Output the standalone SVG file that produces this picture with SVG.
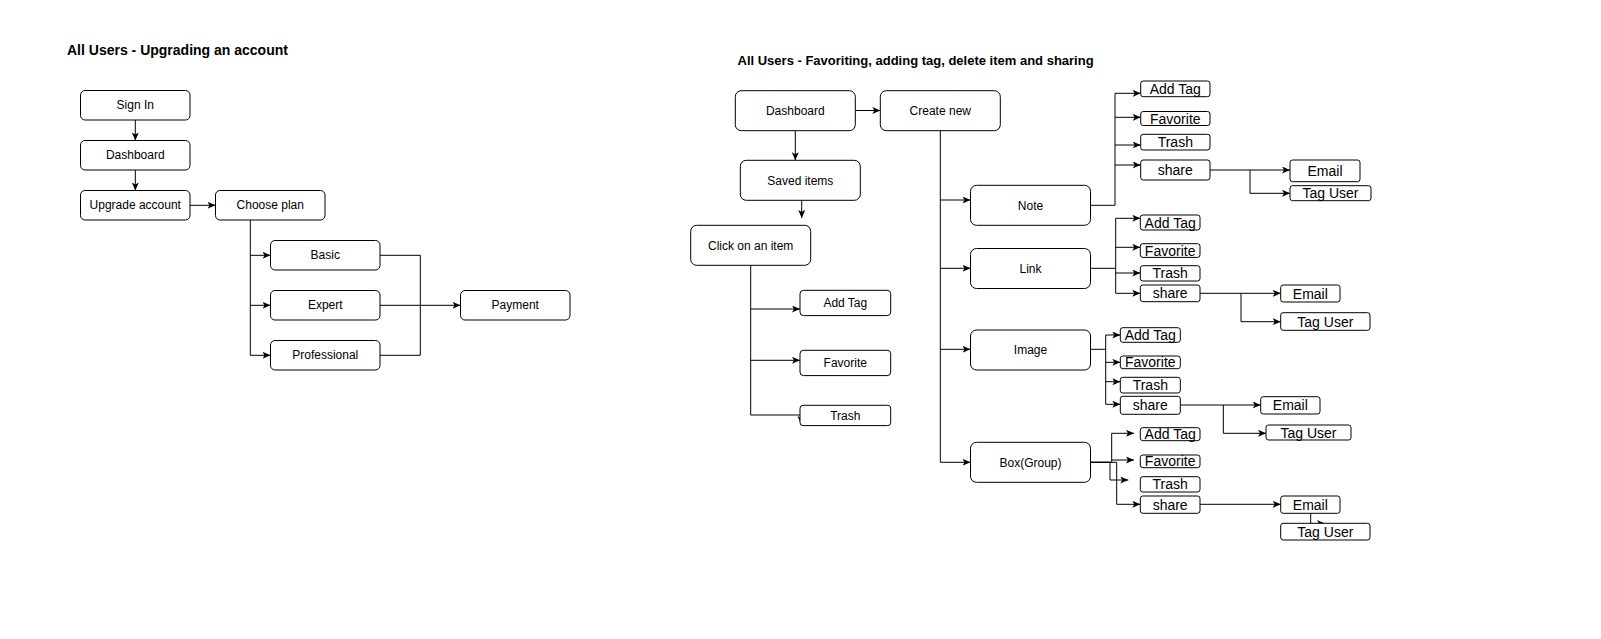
<svg xmlns="http://www.w3.org/2000/svg" width="1601" height="639" viewBox="0 0 1601 639">
<style>
.n rect{fill:#fff;stroke:#000;stroke-width:1}
text{font-family:"Liberation Sans",Arial,Helvetica,sans-serif;fill:#000}
.t{font-size:12px;text-anchor:middle}
.s{font-size:14px;text-anchor:middle}
.h{font-size:14px;font-weight:bold}
.h2{font-size:13px;font-weight:bold}
#connectors path{fill:none;stroke:#000;stroke-width:1}
</style>
<defs>
<marker id="a" markerWidth="10" markerHeight="8" refX="8" refY="3.5" orient="auto" markerUnits="userSpaceOnUse"><path d="M0,0 L8,3.5 L0,7 L2,3.5 Z" fill="#000"/></marker>
</defs>
<rect width="1601" height="639" fill="#fff"/>
<text class="h" x="67" y="55">All Users - Upgrading an account</text>
<text class="h2" x="737.5" y="65">All Users - Favoriting, adding tag, delete item and sharing</text>

<g id="connectors">
<path d="M135.3,120 V140.5" marker-end="url(#a)"/>
<path d="M135.3,170 V190.5" marker-end="url(#a)"/>
<path d="M190,205.3 H215.5" marker-end="url(#a)"/>
<path d="M250.3,220 V355.3 H270.5" marker-end="url(#a)"/>
<path d="M250.3,255.3 H270.5" marker-end="url(#a)"/>
<path d="M250.3,305.3 H270.5" marker-end="url(#a)"/>
<path d="M380,255.3 H420.3 V355.3 H380"/>
<path d="M380,305.3 H460.5" marker-end="url(#a)"/>

<path d="M855.3,110.5 H880.3" marker-end="url(#a)"/>
<path d="M795.3,130.7 V160.3" marker-end="url(#a)"/>
<path d="M801.7,200.3 V218" marker-end="url(#a)"/>
<path d="M750.7,265.3 V415 H801 V424" marker-end="url(#a)"/>
<path d="M750.7,309 H800" marker-end="url(#a)"/>
<path d="M750.7,360.3 H800" marker-end="url(#a)"/>

<path d="M940.3,130.7 V462.3 H970.5" marker-end="url(#a)"/>
<path d="M940.3,200 H970.5" marker-end="url(#a)"/>
<path d="M940.3,268.3 H970.5" marker-end="url(#a)"/>
<path d="M940.3,349.3 H970.5" marker-end="url(#a)"/>

<path d="M1090.5,205.3 H1115 V93.3 H1140.7" marker-end="url(#a)"/>
<path d="M1115,117.3 H1140.7" marker-end="url(#a)"/>
<path d="M1115,145 H1140.7" marker-end="url(#a)"/>
<path d="M1115,165 H1140.7" marker-end="url(#a)"/>
<path d="M1210,170 H1290" marker-end="url(#a)"/>
<path d="M1250,170 V193.3 H1290" marker-end="url(#a)"/>

<path d="M1090.5,268.3 H1115.7"/>
<path d="M1115.7,218.3 V293.3"/>
<path d="M1115.7,218.3 H1140.3" marker-end="url(#a)"/>
<path d="M1115.7,247.3 H1140.3" marker-end="url(#a)"/>
<path d="M1115.7,273 H1140.3" marker-end="url(#a)"/>
<path d="M1115.7,293.3 H1140.3" marker-end="url(#a)"/>
<path d="M1200,293.3 H1280.7" marker-end="url(#a)"/>
<path d="M1241,293.3 V321.7 H1280.7" marker-end="url(#a)"/>

<path d="M1090.5,349.3 H1105.7"/>
<path d="M1105.7,335 V404.3"/>
<path d="M1105.7,335 H1120.3" marker-end="url(#a)"/>
<path d="M1105.7,362.3 H1120.3" marker-end="url(#a)"/>
<path d="M1105.7,381.7 H1120.3" marker-end="url(#a)"/>
<path d="M1105.7,404.3 H1120.3" marker-end="url(#a)"/>
<path d="M1180.3,405 H1260.7" marker-end="url(#a)"/>
<path d="M1223.3,405 V433.3 H1266" marker-end="url(#a)"/>

<path d="M1090.5,462.3 H1111.7 V433.3 H1134" marker-end="url(#a)"/>
<path d="M1111.7,460 H1134" marker-end="url(#a)"/>
<path d="M1090.5,462.3 H1110 V480 H1128.3" marker-end="url(#a)"/>
<path d="M1090.5,462.3 H1116.7 V504.3 H1140.3" marker-end="url(#a)"/>
<path d="M1200,504.3 H1280.7" marker-end="url(#a)"/>
<path d="M1310.7,513.3 V523.5 H1325" marker-end="url(#a)"/>
</g>

<g id="signin" class="n"><rect x="80.5" y="90.5" width="109.5" height="29.5" rx="4.5"/><text class="t" x="135.25" y="109.45">Sign In</text></g>
<g id="dashboard1" class="n"><rect x="80.5" y="140.5" width="109.5" height="29.5" rx="4.5"/><text class="t" x="135.25" y="159.45">Dashboard</text></g>
<g id="upgrade" class="n"><rect x="80.5" y="190.5" width="109.5" height="29.5" rx="4.5"/><text class="t" x="135.25" y="209.45">Upgrade account</text></g>
<g id="chooseplan" class="n"><rect x="215.5" y="190.5" width="109.5" height="29.5" rx="4.5"/><text class="t" x="270.25" y="209.45">Choose plan</text></g>
<g id="basic" class="n"><rect x="270.5" y="240.5" width="109.5" height="29.5" rx="4.5"/><text class="t" x="325.25" y="259.45">Basic</text></g>
<g id="expert" class="n"><rect x="270.5" y="290.5" width="109.5" height="29.5" rx="4.5"/><text class="t" x="325.25" y="309.45">Expert</text></g>
<g id="professional" class="n"><rect x="270.5" y="340.5" width="109.5" height="29.5" rx="4.5"/><text class="t" x="325.25" y="359.45">Professional</text></g>
<g id="payment" class="n"><rect x="460.5" y="290.5" width="109.5" height="29.5" rx="4.5"/><text class="t" x="515.25" y="309.45">Payment</text></g>

<g id="dashboard2" class="n"><rect x="735.3" y="90.7" width="120" height="40" rx="6"/><text class="t" x="795.3" y="114.9">Dashboard</text></g>
<g id="createnew" class="n"><rect x="880.3" y="90.7" width="120" height="40" rx="6"/><text class="t" x="940.3" y="114.9">Create new</text></g>
<g id="saveditems" class="n"><rect x="740.3" y="160.3" width="120" height="40" rx="6"/><text class="t" x="800.3" y="184.5">Saved items</text></g>
<g id="clickitem" class="n"><rect x="690.7" y="225.3" width="120" height="40" rx="6"/><text class="t" x="750.7" y="249.5">Click on an item</text></g>
<g id="click-addtag" class="n"><rect x="800" y="290.3" width="90.7" height="25.3" rx="3.5"/><text class="t" x="845.3" y="307.2">Add Tag</text></g>
<g id="click-favorite" class="n"><rect x="800" y="350.3" width="90.7" height="25.3" rx="3.5"/><text class="t" x="845.3" y="367.2">Favorite</text></g>
<g id="click-trash" class="n"><rect x="800" y="405.3" width="90.7" height="20.3" rx="3"/><text class="t" x="845.3" y="419.7">Trash</text></g>

<g id="note" class="n"><rect x="970.5" y="185.3" width="120" height="40" rx="6"/><text class="t" x="1030.5" y="209.5">Note</text></g>
<g id="link" class="n"><rect x="970.5" y="248.5" width="120" height="40" rx="6"/><text class="t" x="1030.5" y="272.7">Link</text></g>
<g id="image" class="n"><rect x="970.5" y="330" width="120" height="40" rx="6"/><text class="t" x="1030.5" y="354.2">Image</text></g>
<g id="boxgroup" class="n"><rect x="970.5" y="442.3" width="120" height="40" rx="6"/><text class="t" x="1030.5" y="466.5">Box(Group)</text></g>

<g id="note-addtag" class="n"><rect x="1140.7" y="81" width="69.3" height="15.7" rx="2.5"/><text class="s" x="1175.3" y="93.85">Add Tag</text></g>
<g id="note-favorite" class="n"><rect x="1140.7" y="111.5" width="69.3" height="14" rx="2.5"/><text class="s" x="1175.3" y="123.5">Favorite</text></g>
<g id="note-trash" class="n"><rect x="1140.7" y="134.3" width="69.3" height="15.7" rx="2.5"/><text class="s" x="1175.3" y="147.15">Trash</text></g>
<g id="note-share" class="n"><rect x="1140.7" y="160" width="69.3" height="20" rx="2.5"/><text class="s" x="1175.3" y="175">share</text></g>
<g id="note-email" class="n"><rect x="1290" y="160" width="70" height="21.7" rx="2.5"/><text class="s" x="1325" y="175.85">Email</text></g>
<g id="note-taguser" class="n"><rect x="1290" y="185.7" width="81" height="15" rx="2.5"/><text class="s" x="1330.5" y="198.2">Tag User</text></g>

<g id="link-addtag" class="n"><rect x="1140.3" y="215" width="59.7" height="15" rx="2.5"/><text class="s" x="1170.15" y="227.5">Add Tag</text></g>
<g id="link-favorite" class="n"><rect x="1140.3" y="243.7" width="59.7" height="13.7" rx="2.5"/><text class="s" x="1170.15" y="255.55">Favorite</text></g>
<g id="link-trash" class="n"><rect x="1140.3" y="265.7" width="59.7" height="15.3" rx="2.5"/><text class="s" x="1170.15" y="278.35">Trash</text></g>
<g id="link-share" class="n"><rect x="1140.3" y="285" width="59.7" height="16.7" rx="2.5"/><text class="s" x="1170.15" y="298.35">share</text></g>
<g id="link-email" class="n"><rect x="1280.7" y="285" width="59.3" height="17" rx="2.5"/><text class="s" x="1310.35" y="298.5">Email</text></g>
<g id="link-taguser" class="n"><rect x="1280.7" y="312.7" width="89.3" height="17.6" rx="2.5"/><text class="s" x="1325.35" y="326.5">Tag User</text></g>

<g id="image-addtag" class="n"><rect x="1120.3" y="327.7" width="60" height="14.6" rx="2.5"/><text class="s" x="1150.3" y="340">Add Tag</text></g>
<g id="image-favorite" class="n"><rect x="1120.3" y="356" width="60" height="12.7" rx="2.5"/><text class="s" x="1150.3" y="367.35">Favorite</text></g>
<g id="image-trash" class="n"><rect x="1120.3" y="377.3" width="60" height="15.7" rx="2.5"/><text class="s" x="1150.3" y="390.15">Trash</text></g>
<g id="image-share" class="n"><rect x="1120.3" y="396.3" width="60" height="18" rx="2.5"/><text class="s" x="1150.3" y="410.3">share</text></g>
<g id="image-email" class="n"><rect x="1260.7" y="396.7" width="59.3" height="17.3" rx="2.5"/><text class="s" x="1290.35" y="410.35">Email</text></g>
<g id="image-taguser" class="n"><rect x="1266" y="425" width="85" height="15" rx="2.5"/><text class="s" x="1308.5" y="437.5">Tag User</text></g>

<g id="box-addtag" class="n"><rect x="1140.3" y="427.7" width="59.7" height="13" rx="2.5"/><text class="s" x="1170.15" y="439.2">Add Tag</text></g>
<g id="box-favorite" class="n"><rect x="1140.3" y="455" width="59.7" height="12.7" rx="2.5"/><text class="s" x="1170.15" y="466.35">Favorite</text></g>
<g id="box-trash" class="n"><rect x="1140.3" y="476.7" width="59.7" height="15.3" rx="2.5"/><text class="s" x="1170.15" y="489.35">Trash</text></g>
<g id="box-share" class="n"><rect x="1140.3" y="496" width="59.7" height="17.3" rx="2.5"/><text class="s" x="1170.15" y="509.65">share</text></g>
<g id="box-email" class="n"><rect x="1280.7" y="496" width="59.3" height="17.3" rx="2.5"/><text class="s" x="1310.35" y="509.65">Email</text></g>
<g id="box-taguser" class="n"><rect x="1280.7" y="523.3" width="89.3" height="16.7" rx="2.5"/><text class="s" x="1325.35" y="536.65">Tag User</text></g>
</svg>
